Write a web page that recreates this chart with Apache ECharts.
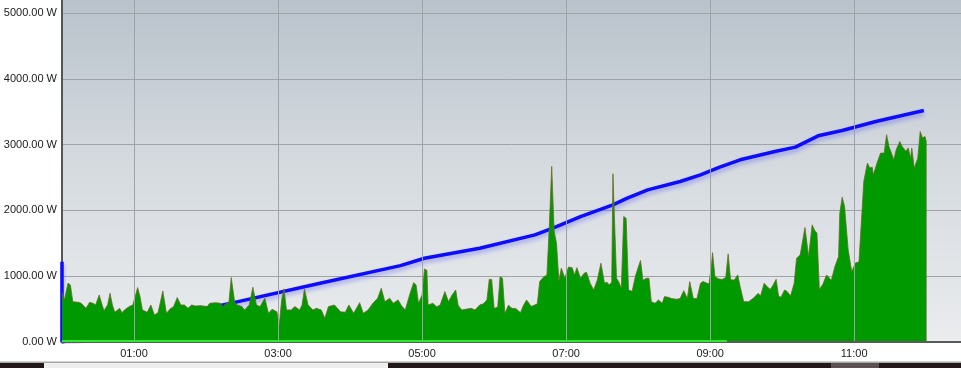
<!DOCTYPE html>
<html>
<head>
<meta charset="utf-8">
<script src="https://cdn.jsdelivr.net/npm/echarts@6/dist/echarts.min.js"></script>
<style>
html,body{margin:0;padding:0;background:#fff;}
#chart{width:961px;height:368px;}
</style>
</head>
<body>
<div id="chart"></div>
<script>
// time in minutes after 00:00, power in W
const xTickLabels = ['01:00','03:00','05:00','07:00','09:00','11:00'];
const yTickValues = [0,1000,2000,3000,4000,5000];

const greenPoints = [
[0,750],[2,640],[5,893],[7,868],[9,613],[14,603],[16,588],[20,512],[23,603],[26,588],[28,563],[31,715],[33,588],[35,477],[38,563],[40,740],[42,563],[44,451],[48,512],[50,446],[52,487],[56,538],[59,563],[61,690],[63,827],[65,690],[67,487],[71,451],[74,563],[77,411],[80,446],[83,690],[84,776],[87,436],[90,502],[93,538],[96,675],[99,563],[102,563],[105,512],[108,563],[111,548],[116,553],[121,538],[123,588],[128,598],[132,588],[134,538],[137,588],[139,588],[141,979],[144,588],[146,563],[150,538],[152,487],[156,563],[159,832],[162,563],[165,538],[169,665],[172,436],[175,497],[179,461],[181,259],[183,640],[185,807],[187,487],[191,487],[194,538],[198,487],[200,563],[202,807],[205,563],[209,487],[212,512],[216,487],[219,360],[222,538],[227,563],[232,461],[236,451],[239,563],[243,436],[248,598],[251,436],[255,487],[259,588],[263,665],[266,817],[269,613],[273,665],[276,588],[280,640],[283,548],[286,487],[290,740],[293,903],[295,868],[297,588],[300,715],[302,1111],[304,1090],[305,563],[309,588],[312,537],[315,560],[319,766],[322,613],[325,715],[328,791],[330,560],[333,487],[337,500],[341,512],[344,487],[348,563],[351,580],[354,639],[356,954],[358,950],[360,512],[363,530],[365,994],[367,970],[369,437],[372,560],[375,510],[378,510],[382,446],[384,540],[387,639],[391,540],[396,580],[398,918],[401,985],[404,1020],[406,1755],[408,2670],[410,1690],[412,1500],[414,930],[416,1122],[419,969],[422,1140],[425,1130],[427,1020],[429,1130],[432,969],[435,1045],[437,1060],[440,893],[443,791],[446,944],[449,1198],[452,893],[454,910],[456,868],[458,910],[459,2557],[462,969],[464,910],[466,817],[468,1907],[470,1880],[472,791],[475,770],[478,1020],[479,1000],[482,1240],[484,940],[487,969],[489,969],[491,613],[494,588],[497,640],[500,588],[502,690],[505,680],[508,660],[512,650],[515,660],[518,781],[521,660],[523,918],[526,660],[529,660],[532,893],[534,920],[539,880],[541,1146],[542,1359],[544,994],[547,960],[550,950],[553,980],[555,1339],[557,950],[560,940],[563,1020],[565,842],[568,613],[572,613],[576,665],[580,740],[582,700],[585,893],[587,850],[590,800],[592,850],[595,954],[597,700],[599,680],[602,791],[604,770],[607,700],[610,893],[612,1273],[615,1324],[619,1740],[621,1450],[622,1298],[625,1781],[627,1700],[629,1654],[631,800],[634,880],[637,1020],[641,940],[644,1150],[647,1300],[648,1959],[650,2202],[652,2060],[653,2080],[655,1400],[658,1070],[661,1200],[664,1220],[665,1190],[668,2440],[671,2720],[673,2644],[675,2660],[676,2542],[679,2720],[682,2872],[685,2872],[687,3151],[689,2973],[691,2872],[693,2770],[695,2922],[698,3049],[700,2973],[703,2900],[705,2950],[707,2795],[708,2948],[710,2644],[713,2795],[715,3200],[717,3100],[719,3125],[720,3050],[720,0]
];

const bluePoints = [
[0,1220],[0,0],[65,300],[144,603],[215,893],[282,1161],[302,1273],[348,1426],[394,1629],[409,1730],[432,1907],[459,2085],[471,2187],[488,2313],[515,2440],[532,2542],[548,2659],[565,2770],[594,2897],[611,2963],[630,3135],[650,3216],[678,3353],[718,3521]
];

const limePoints = [[0,15],[554,15]];

function pad(n){return (n<10?'0':'')+n;}

const chart = echarts.init(document.getElementById('chart'), null, {renderer:'canvas'});
chart.setOption({
  animation:false,
  grid:{
    left:62, right:0, top:0, bottom:26,
    show:true, borderWidth:0,
    backgroundColor:new echarts.graphic.LinearGradient(0,0,0,1,[
      {offset:0,color:'#b9c2cb'},
      {offset:0.5,color:'#d6dbe0'},
      {offset:1,color:'#eaecee'}
    ])
  },
  xAxis:{
    type:'value', min:0, max:749, interval:60, z:5,
    axisLine:{show:true,onZero:false,lineStyle:{color:'#5a5a5a',width:2}},
    axisTick:{show:false},
    axisLabel:{
      margin:6, color:'#1a1a1a', fontSize:11, fontFamily:'Liberation Sans, Arial, sans-serif',
      showMaxLabel:false,
      formatter:function(v){
        const lab = pad(Math.floor(v/60))+':00';
        return (v%60===0 && xTickLabels.indexOf(lab)>=0) ? lab : '';
      }
    },
    splitLine:{show:true,showMinLine:true,showMaxLine:false,lineStyle:{color:['rgba(0,0,0,0)','#9ea3a8'],width:1}}
  },
  yAxis:{
    type:'value', min:0, max:5200, interval:1000, offset:1,
    axisLine:{show:true,lineStyle:{color:'#555',width:2}},
    axisTick:{show:false},
    axisLabel:{
      margin:4, color:'#1a1a1a', fontSize:11, fontFamily:'Liberation Sans, Arial, sans-serif',
      showMaxLabel:false,
      formatter:function(v){ return yTickValues.indexOf(v)>=0 ? v.toFixed(2)+' W' : ''; }
    },
    splitLine:{show:true,showMinLine:false,showMaxLine:false,lineStyle:{color:'#9ea3a8',width:1}}
  },
  series:[
    {
      name:'total', type:'line', z:2, data:bluePoints, showSymbol:false, smooth:false,
      lineStyle:{color:'#0c0cff',width:3.5,shadowColor:'rgba(40,40,255,0.35)',shadowBlur:4,shadowOffsetY:3},
      silent:true
    },
    {
      name:'power', type:'line', z:3, data:greenPoints, showSymbol:false, smooth:false,
      lineStyle:{color:'#6f6a28',width:0.8},
      areaStyle:{color:'#009900',opacity:1},
      silent:true
    },
    {
      name:'base', type:'line', z:6, data:limePoints, showSymbol:false,
      lineStyle:{color:'#2ee82e',width:2},
      silent:true
    }
  ],
  graphic:[
    {type:'rect',shape:{x:0,y:361.5,width:961,height:1.5},style:{fill:'#a8a8a8'},silent:true},
    {type:'rect',shape:{x:0,y:363,width:961,height:5},style:{fill:'#211919'},silent:true},
    {type:'rect',shape:{x:44,y:363,width:344,height:5},style:{fill:'#efefef'},silent:true},
    {type:'rect',shape:{x:831,y:363,width:48,height:5},style:{fill:'#5a5252'},silent:true}
  ]
});
</script>
</body>
</html>
